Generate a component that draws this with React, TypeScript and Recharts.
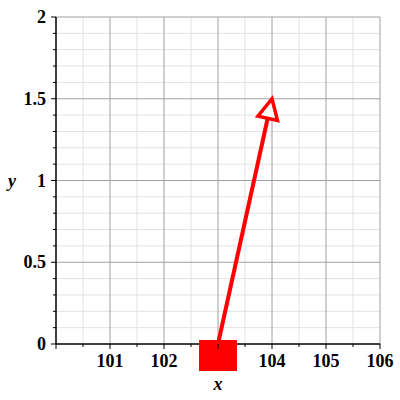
import { ComposedChart, XAxis, YAxis, Line, Scatter, ReferenceLine } from 'recharts';

// arrow from base point to tip
const arrowX = [103, 104];
const arrowY = [0, 1.5];
// marker at the base of the arrow
const boxX = [103];
const boxY = [0];

const xTicksMajor = [100, 101, 102, 103, 104, 105, 106];
// 100 has no label, 103 sits under the red box
const xTickLabels = ['', '101', '102', '', '104', '105', '106'];
const xTicksMinor = [100.5, 101.5, 102.5, 103.5, 104.5, 105.5];
const yTicksMajor = [0, 0.5, 1, 1.5, 2];
const yTickLabels = ['0', '0.5', '1', '1.5', '2'];
const yTicksMinor = [0.1, 0.2, 0.3, 0.4, 0.6, 0.7, 0.8, 0.9, 1.1, 1.2, 1.3, 1.4, 1.6, 1.7, 1.8, 1.9];

const arrowData = arrowX.map((x, i) => ({ x, y: arrowY[i] }));
const boxData = boxX.map((x, i) => ({ x, y: boxY[i] }));

const FONT = "'Liberation Serif', serif";
const RED = '#ff0000';
const MAJOR = '#a0a0a0';
const MINOR = '#e2e2e2';

const XTick = (props: any) => {
  const { x, y, payload } = props;
  const i = xTicksMajor.indexOf(payload.value);
  const major = i >= 0;
  return (
    <g>
      <line x1={x} x2={x} y1={y} y2={y + (major ? 5 : 3)} stroke="#000" strokeWidth={1} />
      {major && xTickLabels[i] && (
        <text x={x} y={y + 23} textAnchor="middle" style={{ fontFamily: FONT, fontWeight: 'bold', fontSize: 18 }} fill="#000">
          {xTickLabels[i]}
        </text>
      )}
    </g>
  );
};

const YTick = (props: any) => {
  const { x, y, payload } = props;
  const i = yTicksMajor.indexOf(payload.value);
  const major = i >= 0;
  return (
    <g>
      <line x1={x - (major ? 5 : 3)} x2={x} y1={y} y2={y} stroke="#000" strokeWidth={1} />
      {major && (
        <text x={x - 10} y={y + 6} textAnchor="end" style={{ fontFamily: FONT, fontWeight: 'bold', fontSize: 18 }} fill="#000">
          {yTickLabels[i]}
        </text>
      )}
    </g>
  );
};

let prevPt: { x: number; y: number } | null = null;

const ArrowHead = (props: any) => {
  const { cx, cy, index } = props;
  if (index === 0 || !prevPt) {
    prevPt = { x: cx, y: cy };
    return <g key={`ah-${index}`} />;
  }
  const dx = cx - prevPt.x;
  const dy = cy - prevPt.y;
  const len = Math.sqrt(dx * dx + dy * dy);
  const ux = dx / len;
  const uy = dy / len;
  const bx = cx - ux * 20;
  const by = cy - uy * 20;
  const px = -uy * 10;
  const py = ux * 10;
  const pts = `${cx},${cy} ${bx + px},${by + py} ${bx - px},${by - py}`;
  return (
    <polygon key={`ah-${index}`} points={pts} fill="#fff" stroke={RED} strokeWidth={3.5} strokeLinejoin="miter" />
  );
};

const BoxShape = (props: any) => {
  const { cx, cy } = props;
  return <rect x={cx - 19} y={cy - 4} width={38} height={31} fill={RED} />;
};

const axisLabel = { fontFamily: FONT, fontStyle: 'italic', fontWeight: 'bold', fontSize: 18, fill: '#000' };

export default function App() {
  return (
    <div style={{ position: 'absolute', left: 0, top: 0, background: '#fff' }}>
      <ComposedChart width={400} height={400} margin={{ top: 17, right: 20, left: 0, bottom: 0 }}>
        <XAxis
          type="number"
          dataKey="x"
          domain={[100, 106]}
          ticks={[...xTicksMajor, ...xTicksMinor].sort((a, b) => a - b)}
          interval={0}
          height={56}
          tickSize={0}
          tickMargin={0}
          tickLine={false}
          tick={<XTick />}
          axisLine={{ stroke: '#000', strokeWidth: 1.5 }}
          label={{ value: 'x', position: 'insideBottom', offset: 10, ...axisLabel }}
        />
        <YAxis
          type="number"
          dataKey="y"
          domain={[0, 2]}
          ticks={[...yTicksMajor, ...yTicksMinor].sort((a, b) => a - b)}
          interval={0}
          width={56}
          tickSize={0}
          tickMargin={0}
          tickLine={false}
          tick={<YTick />}
          axisLine={{ stroke: '#000', strokeWidth: 1.5 }}
          label={{ value: 'y', position: 'insideLeft', offset: 8, ...axisLabel }}
        />
        {xTicksMinor.map((v) => (
          <ReferenceLine key={`xm${v}`} x={v} stroke={MINOR} strokeWidth={1} />
        ))}
        {yTicksMinor.map((v) => (
          <ReferenceLine key={`ym${v}`} y={v} stroke={MINOR} strokeWidth={1} />
        ))}
        {xTicksMajor.slice(1).map((v) => (
          <ReferenceLine key={`xM${v}`} x={v} stroke={MAJOR} strokeWidth={1} />
        ))}
        {yTicksMajor.slice(1).map((v) => (
          <ReferenceLine key={`yM${v}`} y={v} stroke={MAJOR} strokeWidth={1} />
        ))}
        <Line
          data={arrowData}
          dataKey="y"
          type="linear"
          stroke={RED}
          strokeWidth={4}
          dot={ArrowHead}
          activeDot={false}
          isAnimationActive={false}
        />
        <Scatter data={boxData} dataKey="y" shape={BoxShape} isAnimationActive={false} />
      </ComposedChart>
    </div>
  );
}
